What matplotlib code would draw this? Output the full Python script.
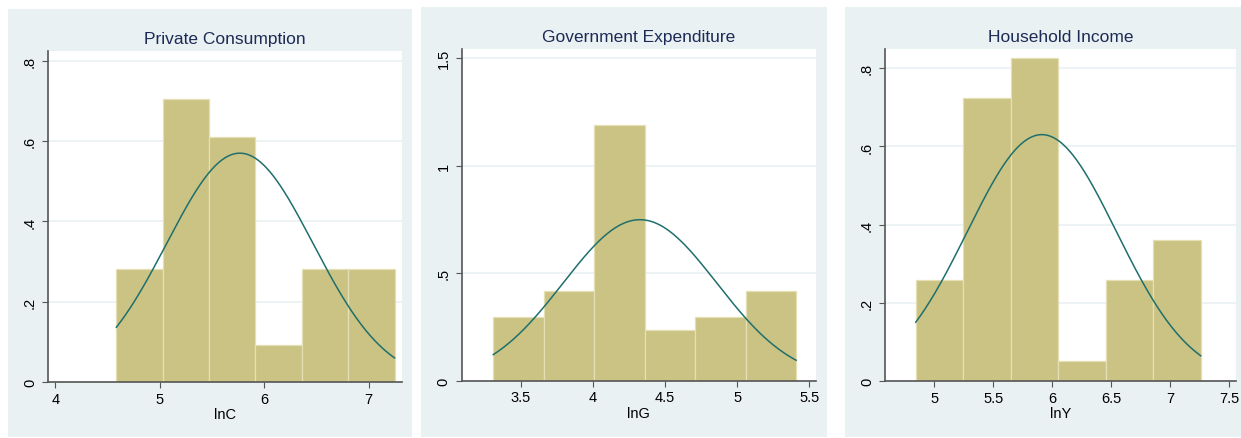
import numpy as np
import matplotlib
matplotlib.use("Agg")
import matplotlib.pyplot as plt
from matplotlib.patches import Rectangle

# ── Histogram data (density per bin) ─────────────────────────────────────────
titles = ["Private Consumption", "Government Expenditure", "Household Income"]
xlabels = ["lnC", "lnG", "lnY"]

lnc_edges = [4.585, 5.029, 5.473, 5.917, 6.361, 6.805, 7.249]
lnc_density = [0.282, 0.704, 0.610, 0.094, 0.282, 0.282]
lnc_mean, lnc_sd = 5.767, 0.700

lng_edges = [3.308, 3.658, 4.008, 4.358, 4.708, 5.058, 5.408]
lng_density = [0.298, 0.417, 1.190, 0.238, 0.298, 0.417]
lng_mean, lng_sd = 4.325, 0.533

lny_edges = [4.842, 5.245, 5.648, 6.051, 6.454, 6.857, 7.260]
lny_density = [0.258, 0.724, 0.827, 0.052, 0.258, 0.362]
lny_mean, lny_sd = 5.912, 0.633

lnc_xticks = [4, 5, 6, 7]
lnc_yticks = [0, 0.2, 0.4, 0.6, 0.8]
lnc_yticklabels = ["0", ".2", ".4", ".6", ".8"]
lng_xticks = [3.5, 4, 4.5, 5, 5.5]
lng_yticks = [0, 0.5, 1.0, 1.5]
lng_yticklabels = ["0", ".5", "1", "1.5"]
lny_xticks = [5, 5.5, 6, 6.5, 7, 7.5]
lny_yticks = [0, 0.2, 0.4, 0.6, 0.8]
lny_yticklabels = ["0", ".2", ".4", ".6", ".8"]

# ── Style ────────────────────────────────────────────────────────────────────
W, H = 1241, 439
BG = "#eaf1f3"
BAR = "#cbc383"
BAR_EDGE = "#e4dfb4"
CURVE = "#1f6f6c"
TITLE_C = "#1c2b55"
AXIS_C = "#555555"
FONT = ["Liberation Sans Narrow", "Liberation Sans", "DejaVu Sans"]

plt.rcParams["font.family"] = FONT


def px_box(x0, y0, x1, y1):
    """pixel box (top-left origin) -> figure fraction rect"""
    return [x0 / W, 1 - y1 / H, (x1 - x0) / W, (y1 - y0) / H]


panels = [
    # (bg box, axes box, xlim, ylim, edges, dens, mean, sd, xticks, xticklabels, yticks, yticklabels)
    ((8, 10, 412, 438), (48, 52, 402, 383.3), (3.93, 7.32), (0, 0.824),
     lnc_edges, lnc_density, lnc_mean, lnc_sd,
     lnc_xticks, ["4", "5", "6", "7"], lnc_yticks, lnc_yticklabels),
    ((421, 8, 827, 438), (461.7, 50, 816, 381.7), (3.089, 5.546), (0, 1.542),
     lng_edges, lng_density, lng_mean, lng_sd,
     lng_xticks, ["3.5", "4", "4.5", "5", "5.5"], lng_yticks, lng_yticklabels),
    ((845, 8, 1241, 438), (885, 50, 1235.7, 382.3), (4.581, 7.557), (0, 0.849),
     lny_edges, lny_density, lny_mean, lny_sd,
     lny_xticks, ["5", "5.5", "6", "6.5", "7", "7.5"], lny_yticks, lny_yticklabels),
]

fig = plt.figure(figsize=(W / 100, H / 100), dpi=100)
fig.patch.set_facecolor("white")

for i, (bg, box, xlim, ylim, edges, dens, mu, sd,
        xt, xtl, yt, ytl) in enumerate(panels):
    bx = px_box(*bg)
    fig.add_artist(Rectangle((bx[0], bx[1]), bx[2], bx[3],
                             transform=fig.transFigure,
                             facecolor=BG, edgecolor="none", zorder=-10))

    ax = fig.add_axes(px_box(*box))
    ax.set_facecolor("white")
    edges = np.asarray(edges)
    ax.bar(edges[:-1], dens, width=np.diff(edges), align="edge",
           color=BAR, edgecolor=BAR_EDGE, linewidth=0.9, zorder=2)

    xs = np.linspace(edges[0], edges[-1], 300)
    ys = np.exp(-0.5 * ((xs - mu) / sd) ** 2) / (sd * np.sqrt(2 * np.pi))
    ax.plot(xs, ys, color=CURVE, linewidth=1.1, zorder=3)

    ax.set_xlim(*xlim)
    ax.set_ylim(*ylim)
    ax.set_xticks(xt)
    ax.set_xticklabels(xtl)
    ax.set_yticks(yt)
    ax.set_yticklabels(ytl, rotation=90, va="center")
    ax.tick_params(axis="both", direction="out", length=4, width=0.8,
                   color=AXIS_C, labelsize=10.5, labelcolor="black", pad=3)
    ax.tick_params(axis="y", pad=4)

    for s in ("top", "right"):
        ax.spines[s].set_visible(False)
    for s in ("left", "bottom"):
        ax.spines[s].set_color(AXIS_C)
        ax.spines[s].set_linewidth(1.2)

    ax.grid(True, axis="y", color=BG, linewidth=1.2, zorder=1)
    ax.set_axisbelow(True)

    ax.set_title(titles[i], color=TITLE_C, fontsize=12.5, pad=6)
    ax.set_xlabel(xlabels[i], fontsize=10.5, labelpad=1)

fig.savefig("out.png", dpi=100, facecolor="white")
